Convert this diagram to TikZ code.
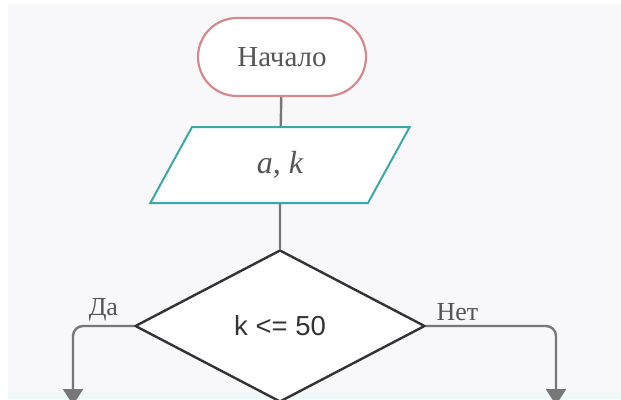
\documentclass[tikz,border=0pt]{standalone}
\usepackage{fontspec}
\setmainfont{Liberation Serif}
\setsansfont{Liberation Sans}
\usetikzlibrary{shapes.geometric,arrows.meta}

\definecolor{bgpage}{HTML}{F8F8FA}
\definecolor{bgstrip}{HTML}{EEF9FA}
\definecolor{termred}{HTML}{D48A8C}
\definecolor{ioteal}{HTML}{3AA8A8}
\definecolor{condgrey}{HTML}{333333}
\definecolor{linegrey}{HTML}{777777}
\definecolor{txtgrey}{HTML}{555555}

\begin{document}
\begin{tikzpicture}[x=1pt,y=-1pt,
    termbox/.style={draw=termred,line width=2.2pt,fill=white,rounded corners=39pt,
        minimum width=168pt,minimum height=78pt,text=txtgrey,font=\fontsize{29}{32}\selectfont},
    iobox/.style={trapezium,trapezium left angle=68,trapezium right angle=112,
        trapezium stretches=true,draw=ioteal,line width=2pt,fill=white,
        minimum width=261pt,minimum height=76pt,inner sep=0pt,text=txtgrey,
        font=\fontsize{32}{34}\selectfont\itshape},
    decision/.style={diamond,aspect=1.9,draw=condgrey,line width=2.4pt,fill=white,
        minimum width=290pt,minimum height=152pt,inner sep=0pt,text=condgrey,
        font=\sffamily\fontsize{27.5}{30}\selectfont},
    flow/.style={draw=linegrey,line width=2.4pt,rounded corners=10pt,
        -{Triangle[width=20pt,length=16pt]}},
    lbl/.style={text=txtgrey,font=\fontsize{26}{28}\selectfont,inner sep=4pt}]
    \useasboundingbox (0,0) rectangle (621,399);
    \clip (0,0) rectangle (621,399);
    \fill[bgpage] (8,4) rectangle (621,393);
    \fill[bgstrip] (8,393) rectangle (621,399);

    \node[termbox] (start) at (282,57) {Начало};
    \node[iobox] (input) at (280,165) {a, k};
    \node[decision] (cond) at (280,326) {k <= 50};
    \coordinate (yesend) at (73,405);
    \coordinate (noend) at (556,405);

    \draw[linegrey,line width=2.4pt] (start) -- (input);
    \draw[linegrey,line width=2.4pt] (input) -- (cond);
    \draw[flow] (cond.west) -| node[lbl,pos=0.25,above] {Да} (yesend);
    \draw[flow] (cond.east) -| node[lbl,pos=0.12,above] {Нет} (noend);
\end{tikzpicture}
\end{document}
